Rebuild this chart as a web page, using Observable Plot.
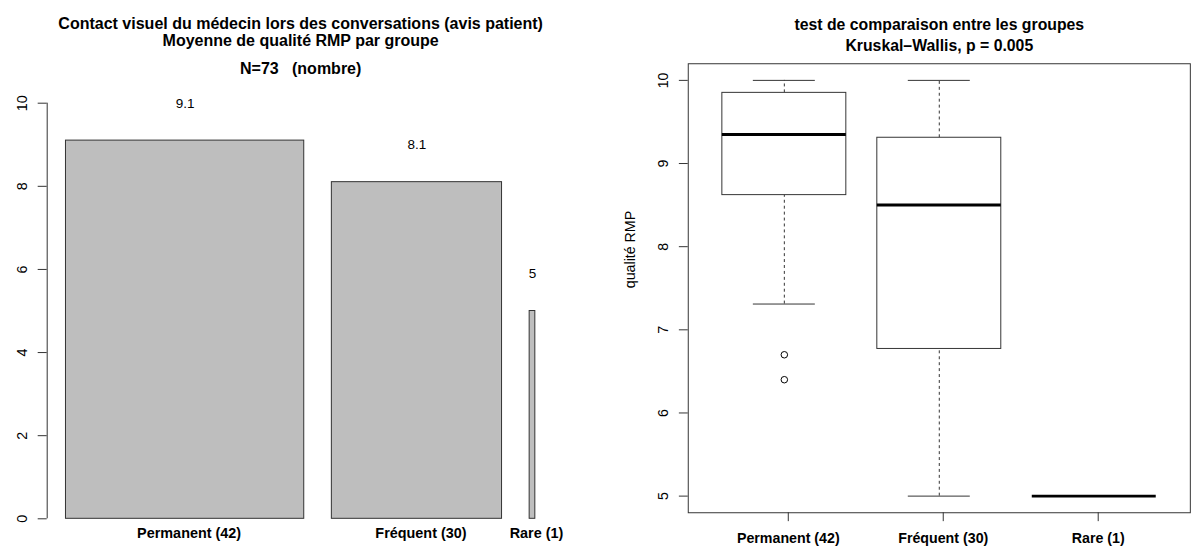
<!DOCTYPE html>
<html><head><meta charset="utf-8">
<script src="https://cdn.jsdelivr.net/npm/d3@7"></script>
<script src="https://cdn.jsdelivr.net/npm/@observablehq/plot@0.6"></script>
<style>
html,body{margin:0;padding:0;background:#fff;overflow:hidden;width:1193px;height:557px}
#left{position:absolute;left:0;top:0}
#right{position:absolute;left:600px;top:0}
svg text{white-space:pre}
</style></head><body>
<div id="left"></div><div id="right"></div>
<script>
// ---- data ----
const groups = ["Permanent (42)", "Fréquent (30)", "Rare (1)"];
const counts = [42, 30, 1];
const means = [9.1, 8.1, 5];
const meanLabels = ["9.1", "8.1", "5"];
const yTicksLeft = [0, 2, 4, 6, 8, 10];

const q1 = [8.62, 6.77, 5];
const medians = [9.35, 8.5, 5];
const q3 = [9.85, 9.31, 5];
const whiskerLow = [7.31, 5, 5];
const whiskerHigh = [10, 10, 5];
const outlierGroup = [1, 1];
const outlierValue = [6.7, 6.4];
const yTicksRight = [5, 6, 7, 8, 9, 10];

const titleLeft = ["Contact visuel du médecin lors des conversations (avis patient)", "Moyenne de qualité RMP par groupe", "N=73   (nombre)"];
const titleRight = ["test de comparaison entre les groupes", "Kruskal\u2013Wallis, p = 0.005"];
const yLabelRight = "qualité RMP";

const FONT = "'Liberation Sans', Arial, Helvetica, sans-serif";
const LINE = "#333";

// ---- left: bar chart with widths proportional to counts ----
const space = 0.2 * d3.mean(counts);
let acc = 0;
const bars = groups.map((g, i) => {
  acc += space;
  const x1 = acc;
  acc += counts[i];
  return {g, x1, x2: acc, mean: means[i], label: meanLabels[i]};
});
const xmin = bars[0].x1, xmax = bars[bars.length - 1].x2;
const xpad = 0.04 * (xmax - xmin);

const left = Plot.plot({
  width: 600, height: 557,
  marginLeft: 46.7, marginRight: 46.4, marginTop: 102.7, marginBottom: 38.7,
  x: {domain: [xmin - xpad, xmax + xpad], axis: null},
  y: {domain: [0, 10], axis: null},
  style: {fontFamily: FONT, fontSize: "14.4px", background: "white", color: "black"},
  marks: [
    Plot.rectY(bars, {x1: "x1", x2: "x2", y: "mean", fill: "#bebebe", stroke: LINE, strokeWidth: 1}),
    Plot.text(bars, {x: d => (d.x1 + d.x2) / 2, y: d => d.mean + 0.9, text: "label", fontSize: 13.5, fill: "black"}),
    Plot.text(bars, {x: d => (d.x1 + d.x2) / 2, y: 0, text: "g", lineAnchor: "top", dy: 8.5, dx: 4, fontWeight: "bold", fontSize: 14.4, fill: "black"}),
    Plot.ruleX([xmin - xpad], {y1: 0, y2: 10, stroke: LINE}),
    Plot.axisY({ticks: yTicksLeft, tickFormat: d3.format("d"), label: null, tickSize: 9, tickPadding: 11, tickRotate: -90, anchor: "left", stroke: LINE, fontSize: 14.4}),
    Plot.text([titleLeft[0]], {frameAnchor: "top", dy: 16.7 - 102.7, fontWeight: "bold", fontSize: 16, fill: "black"}),
    Plot.text([titleLeft[1]], {frameAnchor: "top", dy: 34.3 - 102.7, fontWeight: "bold", fontSize: 16, fill: "black"}),
    Plot.text([titleLeft[2]], {frameAnchor: "top", dy: 61.7 - 102.7, fontWeight: "bold", fontSize: 16, fill: "black"})
  ]
});
document.getElementById("left").appendChild(left);

// ---- right: boxplot ----
const boxes = groups.map((g, i) => ({g, i: i + 1, q1: q1[i], med: medians[i], q3: q3[i], lo: whiskerLow[i], hi: whiskerHigh[i]}));
const outliers = outlierValue.map((v, k) => ({i: outlierGroup[k], v}));
const n = groups.length;
const allVals = [...whiskerLow, ...whiskerHigh, ...outlierValue];
const ylo = d3.min(allVals), yhi = d3.max(allVals);
const ypad = 0.04 * (yhi - ylo);

const right = Plot.plot({
  width: 600, height: 557,
  marginLeft: 88.8, marginRight: 3.2, marginTop: 64, marginBottom: 38.7,
  x: {domain: [0.5 - 0.04 * n, n + 0.5 + 0.04 * n], axis: null},
  y: {domain: [ylo - ypad, yhi + ypad], axis: null},
  style: {fontFamily: FONT, fontSize: "14.4px", background: "white", color: "black"},
  marks: [
    Plot.frame({stroke: LINE}),
    Plot.ruleX(boxes, {x: "i", y1: "q3", y2: "hi", stroke: LINE, strokeDasharray: "3,3"}),
    Plot.ruleX(boxes, {x: "i", y1: "lo", y2: "q1", stroke: LINE, strokeDasharray: "3,3"}),
    Plot.ruleY(boxes, {y: "hi", x1: d => d.i - 0.2, x2: d => d.i + 0.2, stroke: LINE}),
    Plot.ruleY(boxes, {y: "lo", x1: d => d.i - 0.2, x2: d => d.i + 0.2, stroke: LINE}),
    Plot.rect(boxes, {x1: d => d.i - 0.4, x2: d => d.i + 0.4, y1: "q1", y2: "q3", fill: "white", stroke: LINE}),
    Plot.ruleY(boxes, {y: "med", x1: d => d.i - 0.4, x2: d => d.i + 0.4, stroke: "black", strokeWidth: 3}),
    Plot.dot(outliers, {x: "i", y: "v", r: 3.3, stroke: "black", fill: "none", strokeWidth: 1}),
    Plot.axisY({ticks: yTicksRight, tickFormat: d3.format("d"), label: null, tickSize: 9, tickPadding: 11, tickRotate: -90, anchor: "left", stroke: LINE, fontSize: 14.4}),
    Plot.axisX({ticks: groups.map((g, i) => i + 1), tickFormat: d => groups[d - 1], label: null, tickSize: 9, tickPadding: 11.5, anchor: "bottom", stroke: LINE, fontWeight: "bold", fontSize: 14.4, dx: 4}),
    Plot.text([yLabelRight], {frameAnchor: "left", rotate: -90, dx: -58, fontSize: 14.4, fill: "black"}),
    Plot.text([titleRight[0]], {frameAnchor: "top", dy: 18.3 - 64, fontWeight: "bold", fontSize: 16, fill: "black"}),
    Plot.text([titleRight[1]], {frameAnchor: "top", dy: 40 - 64, fontWeight: "bold", fontSize: 16, fill: "black"})
  ]
});
document.getElementById("right").appendChild(right);
</script>
</body></html>
